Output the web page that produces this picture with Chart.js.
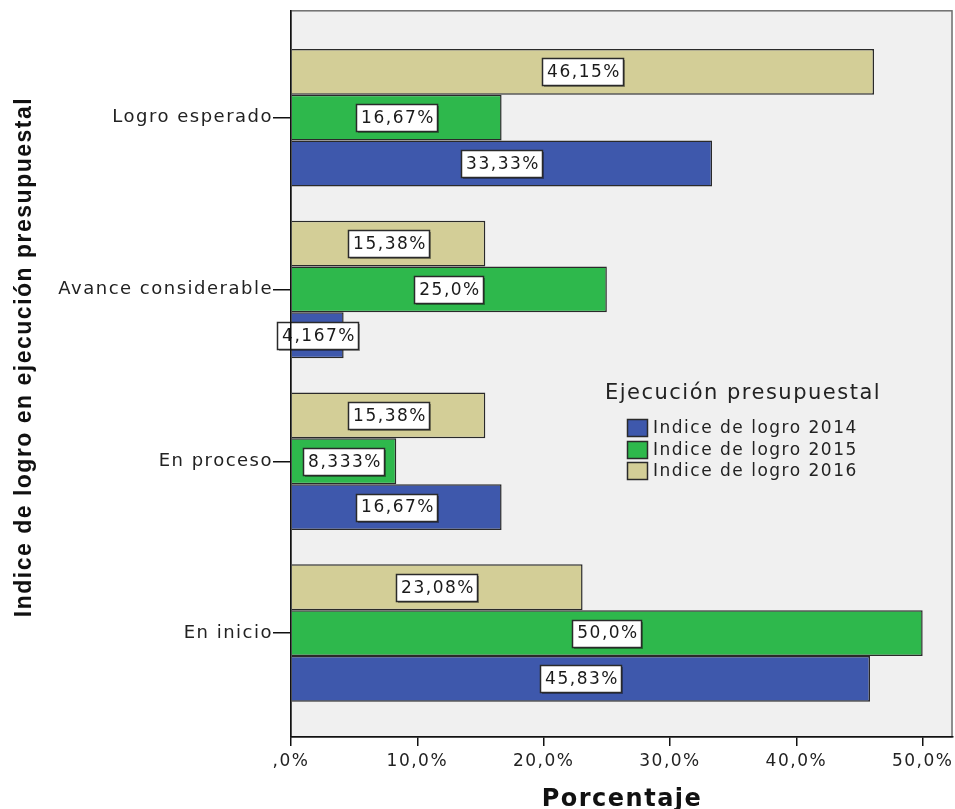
<!DOCTYPE html>
<html>
<head>
<meta charset="utf-8">
<script src="https://cdn.jsdelivr.net/npm/chart.js@4/dist/chart.umd.min.js"></script>
<style>
html, body { margin: 0; padding: 0; background: #fff; }
#wrap { width: 955px; height: 809px; }
</style>
</head>
<body>
<div id="wrap"><canvas id="chart" width="955" height="809"></canvas></div>
<script>
// data
const categories = ['Logro esperado', 'Avance considerable', 'En proceso', 'En inicio'];
const seriesNames = ['Indice de logro 2014', 'Indice de logro 2015', 'Indice de logro 2016'];
const logro2014 = [33.33, 4.167, 16.67, 45.83];
const logro2015 = [16.67, 25.0, 8.333, 50.0];
const logro2016 = [46.15, 15.38, 15.38, 23.08];
const xTicks = [0, 10, 20, 30, 40, 50];
const colors = ['#3e58ac', '#2eb84c', '#d3ce97'];
const yTitle = 'Indice de logro en ejecución presupuestal';
const xTitle = 'Porcentaje';
const legendTitle = 'Ejecución presupuestal';

const FONT = '"DejaVu Sans", sans-serif';
Chart.defaults.font.family = FONT;
Chart.defaults.color = '#222';

function fmtPct(v) {
  if (v === 0) return ',0%';
  let s = Number.isInteger(v) ? v.toFixed(1) : String(v);
  return s.replace('.', ',') + '%';
}

const series = [logro2014, logro2015, logro2016];
// top bar in each group is 2016, so push datasets in reverse order
const datasets = series.map(function(vals, s) {
  return {
    label: seriesNames[s],
    data: vals.map(function(v, i) { return { x: v, y: i }; }),
    backgroundColor: colors[s],
    borderColor: '#2a2a2a',
    borderWidth: 1.5,
    categoryPercentage: 0.8,
    barPercentage: 1.0
  };
}).reverse();

const plotBg = {
  id: 'plotBg',
  beforeDraw(chart) {
    const ctx = chart.ctx, a = chart.chartArea;
    ctx.letterSpacing = '1.5px';
    ctx.save();
    ctx.fillStyle = '#f0f0f0';
    ctx.fillRect(a.left, a.top, a.right - a.left, a.bottom - a.top);
    ctx.strokeStyle = '#6e6e6e';
    ctx.lineWidth = 1.5;
    ctx.strokeRect(a.left, a.top, a.right - a.left - 1, a.bottom - a.top);
    ctx.restore();
  }
};

const barLabels = {
  id: 'barLabels',
  afterDatasetsDraw(chart) {
    const ctx = chart.ctx;
    ctx.save();
    ctx.font = '17px ' + FONT;
    ctx.textAlign = 'center';
    ctx.textBaseline = 'middle';
    chart.data.datasets.forEach(function(ds, di) {
      const meta = chart.getDatasetMeta(di);
      meta.data.forEach(function(el, i) {
        const txt = fmtPct(ds.data[i].x);
        const w = ctx.measureText(txt).width;
        const cx = Math.round((el.x + el.base) / 2);
        const bw = Math.round(w + 7), bh = 27;
        const x0 = cx - Math.round(bw / 2) + 0.5, y0 = Math.round(el.y - bh / 2) + 0.5;
        ctx.save();
        ctx.shadowColor = 'rgba(0,0,0,0.35)';
        ctx.shadowOffsetX = 1.5;
        ctx.shadowOffsetY = 1.5;
        ctx.fillStyle = '#fff';
        ctx.fillRect(x0, y0, bw, bh);
        ctx.restore();
        ctx.strokeStyle = '#2a2a2a';
        ctx.lineWidth = 1.5;
        ctx.strokeRect(x0, y0, bw, bh);
        ctx.fillStyle = '#1a1a1a';
        ctx.fillText(txt, cx + 1, el.y + 1);
      });
    });
    ctx.restore();
  }
};

const boxLegend = {
  id: 'boxLegend',
  afterDraw(chart) {
    const ctx = chart.ctx;
    ctx.save();
    ctx.fillStyle = '#222';
    ctx.textBaseline = 'middle';
    ctx.textAlign = 'center';
    ctx.font = '21px ' + FONT;
    ctx.fillText(legendTitle, 743, 394);
    ctx.textAlign = 'left';
    ctx.font = '17px ' + FONT;
    seriesNames.forEach(function(name, k) {
      const y = 428 + k * 21.5;
      ctx.fillStyle = colors[k];
      ctx.fillRect(627.5, Math.round(y - 9) + 0.5, 20, 17);
      ctx.strokeStyle = '#2a2a2a';
      ctx.lineWidth = 1.5;
      ctx.strokeRect(627.5, Math.round(y - 9) + 0.5, 20, 17);
      ctx.fillStyle = '#222';
      ctx.fillText(name, 653, y + 1);
    });
    // rotated y axis title, placed where SPSS puts it
    ctx.translate(25, 357);
    ctx.rotate(-Math.PI / 2);
    ctx.textAlign = 'center';
    ctx.fillStyle = '#111';
    ctx.font = 'bold 23px "Liberation Sans", Arial, sans-serif';
    ctx.fillText(yTitle, 0, 0);
    ctx.restore();
  }
};

new Chart(document.getElementById('chart'), {
  type: 'bar',
  data: { datasets: datasets },
  plugins: [plotBg, barLabels, boxLegend],
  options: {
    indexAxis: 'y',
    responsive: false,
    animation: false,
    devicePixelRatio: 1,
    layout: { padding: { top: 10, right: 2, left: 0, bottom: 0 } },
    plugins: { legend: { display: false }, tooltip: { enabled: false } },
    scales: {
      x: {
        type: 'linear',
        position: 'bottom',
        min: 0,
        max: 52.4,
        afterBuildTicks: function(s) { s.ticks = xTicks.map(function(v) { return { value: v }; }); },
        afterFit: function(s) { s.height = 72; },
        ticks: {
          font: { size: 17 },
          color: '#222',
          padding: 5,
          maxRotation: 0,
          autoSkip: false,
          callback: function(v) { return fmtPct(v); }
        },
        grid: { drawOnChartArea: false, drawTicks: true, tickLength: 9, color: '#111', lineWidth: 1.5 },
        border: { display: true, color: '#111', width: 1.5 },
        title: {
          display: true,
          text: xTitle,
          color: '#111',
          font: { size: 24, weight: 'bold', lineHeight: 0.8 },
          padding: { top: 0, bottom: 0 }
        }
      },
      y: {
        type: 'linear',
        position: 'left',
        reverse: true,
        offset: false,
        min: -0.622,
        max: 3.605,
        afterBuildTicks: function(s) { s.ticks = categories.map(function(c, i) { return { value: i }; }); },
        afterFit: function(s) { s.width = 291; },
        ticks: {
          font: { size: 18 },
          color: '#222',
          padding: 0,
          autoSkip: false,
          callback: function(v) { return categories[v]; }
        },
        grid: { offset: false, drawOnChartArea: false, drawTicks: true, tickLength: 18, color: '#111', lineWidth: 1.5 },
        border: { display: true, color: '#111', width: 1.5, z: 1 },
        title: { display: false }
      }
    }
  }
});
</script>
</body>
</html>
